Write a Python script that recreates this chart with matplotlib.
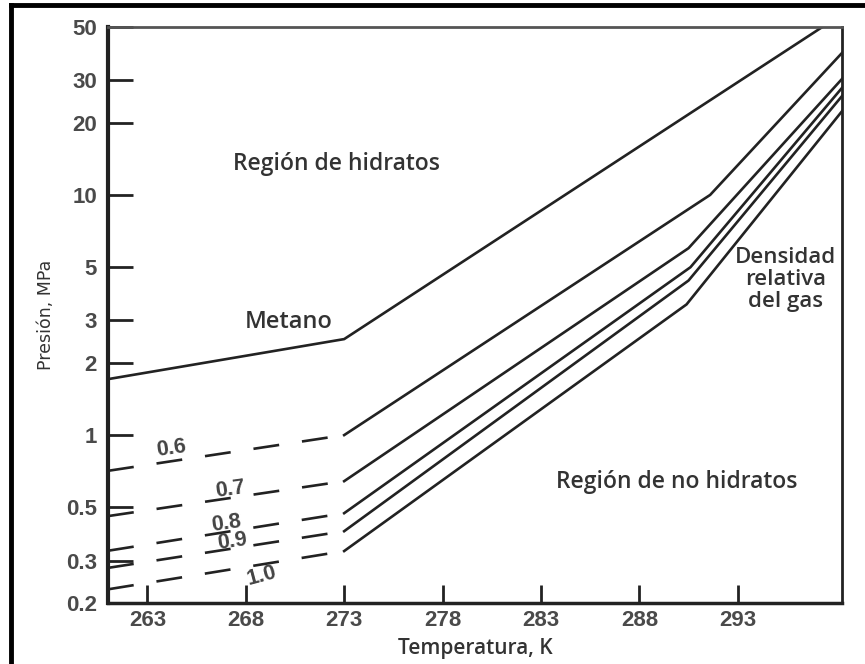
import matplotlib
matplotlib.use("Agg")
import matplotlib.pyplot as plt
from matplotlib.ticker import FixedLocator, NullLocator

plt.rcParams['lines.scale_dashes'] = False

# curva del metano: (T, p)
T_metano = [261.0, 273.0, 297.3]
p_metano = [1.71, 2.51, 50.0]

# curvas por densidad relativa del gas
densidades = ['0.6', '0.7', '0.8', '0.9', '1.0']
T_ini, T_hielo, T_fin = 261.0, 273.0, 298.3
p_ini = [0.71, 0.46, 0.33, 0.28, 0.228]
p_hielo = [1.0, 0.643, 0.473, 0.398, 0.329]
T_quiebre = [291.6, 290.5, 290.6, 290.5, 290.4]
p_quiebre = [10.0, 6.0, 5.0, 4.4, 3.5]
p_fin = [39.0, 30.4, 27.9, 25.8, 22.3]

x_ticks = [263, 268, 273, 278, 283, 288, 293]
y_ticks = [0.2, 0.3, 0.5, 1, 2, 3, 5, 10, 20, 30, 50]
y_labels = ['0.2', '0.3', '0.5', '1', '2', '3', '5', '10', '20', '30', '50']

col = '#222222'
fig = plt.figure(figsize=(8.65, 6.64), dpi=100)
ax = fig.add_axes([0.1249, 0.0919, 0.8485, 0.8674])

ax.plot(T_metano, p_metano, color=col, lw=1.9)

for i in range(len(densidades)):
    ax.plot([T_ini, T_hielo], [p_ini[i], p_hielo[i]], color=col, lw=1.9,
            dashes=(18.7, 16.6))
    ax.plot([T_hielo, T_quiebre[i], T_fin], [p_hielo[i], p_quiebre[i], p_fin[i]],
            color=col, lw=1.9)

ax.set_yscale('log')
ax.set_xlim(261, 298.3)
ax.set_ylim(0.2, 50)
ax.yaxis.set_major_locator(FixedLocator(y_ticks))
ax.set_yticklabels(y_labels)
ax.yaxis.set_minor_locator(NullLocator())
ax.set_xticks(x_ticks)
ax.set_xticklabels([str(t) for t in x_ticks])

for t in ax.get_xticklabels() + ax.get_yticklabels():
    t.set_fontfamily(['Liberation Sans', 'DejaVu Sans'])
    t.set_fontsize(16)
    t.set_fontweight('bold')
    t.set_color('#4a4a4a')
ax.tick_params(axis='y', direction='in', length=18, width=2, color=col, pad=8)
ax.tick_params(axis='x', direction='in', length=13, width=2, color=col, pad=5)

ax.spines['left'].set_linewidth(3)
ax.spines['bottom'].set_linewidth(2.5)
ax.spines['top'].set_linewidth(2)
ax.spines['right'].set_linewidth(2)
for s in ax.spines.values():
    s.set_color(col)
ax.spines['top'].set_color('#555555')

txt = dict(family=['Open Sans', 'DejaVu Sans'], color='#333333', fontweight='semibold')
ax.set_xlabel('Temperatura, K', fontsize=15, labelpad=5, **txt)
ax.set_ylabel('Presión, MPa', fontsize=12.5, labelpad=8,
              family=['Liberation Sans Narrow', 'DejaVu Sans'], color='#333333')

ax.text(272.6, 13.5, 'Región de hidratos', fontsize=16.5, ha='center', va='center', **txt)
ax.text(270.2, 2.95, 'Metano', fontsize=17, ha='center', va='center', **txt)
ax.text(295.45, 4.45, 'Densidad\nrelativa\ndel gas', fontsize=16, ha='center', va='center',
        linespacing=1.05, **txt)
ax.text(289.9, 0.64, 'Región de no hidratos', fontsize=16.5, ha='center', va='center', **txt)

# etiquetas de densidad sobre las líneas discontinuas
etiquetas_T = [264.2, 267.2, 267.0, 267.3, 268.8]
etiquetas_p = [0.883, 0.596, 0.43, 0.362, 0.259]
rot = [8, 8, 8, 8, 15]
for i in range(len(densidades)):
    ax.text(etiquetas_T[i], etiquetas_p[i], densidades[i], fontsize=15.5, rotation=rot[i],
            ha='center', va='center', family=['Liberation Sans', 'DejaVu Sans'],
            fontweight='bold', color='#444444')

# marco exterior
fig.add_artist(plt.Line2D([0.0127, 0.0127], [0, 0.993], color='black', lw=3.5,
                          transform=fig.transFigure))
fig.add_artist(plt.Line2D([0.0127, 1.0], [0.993, 0.993], color='black', lw=3.5,
                          transform=fig.transFigure))

fig.savefig('out.png', dpi=100)
